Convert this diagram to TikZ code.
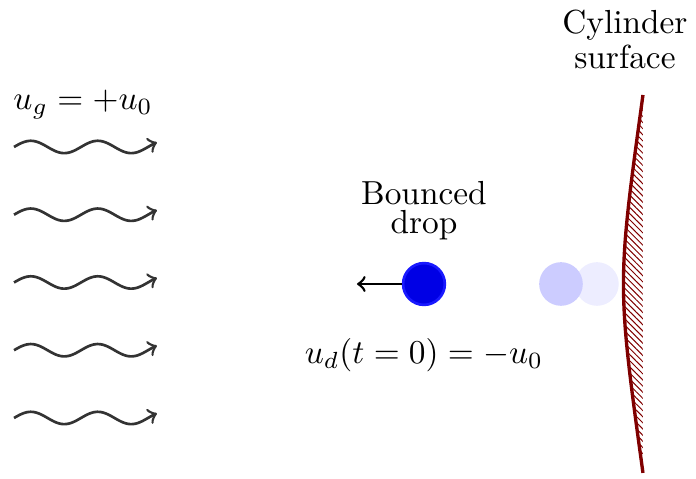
\documentclass[tikz,border=0pt]{standalone}
\usetikzlibrary{positioning,patterns.meta}

\begin{document}
\begin{tikzpicture}
    % 定义样式
    \tikzstyle{wave}=[thick, black!80, ->, >=to]
    \tikzstyle{drop}=[circle, fill=blue!90!black, draw=blue!90, thick, inner sep=0pt, minimum size=0.44cm]
    \tikzstyle{ghost}=[circle, inner sep=0pt, minimum size=0.46cm]
    \tikzstyle{wallline}=[line width=1pt, red!50!black]
    \tikzstyle{label}=[align=center, inner sep=1pt]

    % 画布范围
    \useasboundingbox (0,0) rectangle (7.335,-5.048);

    % 1. 气流 (波浪箭头)
    \node[label] (ug) at (0.875,-1.106) {$u_g=+u_0$};
    \foreach \y in {0,...,4} {
        \draw[wave] plot[domain=0:1.506, samples=80, smooth]
            ({0.148+\x}, {-1.549-0.714*\y+0.065*sin(\x*510)});
    }

    % 2. 液滴及其之前的位置
    \node[ghost, fill=blue!7] (g2) at (6.291,-2.993) {};
    \node[ghost, fill=blue!20] (g1) at (5.912,-2.993) {};
    \node[drop] (d) at (4.468,-2.993) {};
    \coordinate (dl) at (3.762,-2.993);
    \draw[thick, ->, >=to] (d.west) -- (dl);

    \node[label, above=0.19cm of d] (bounce) {Bounced\\[-3.5pt]drop};
    \node[label, below=0.3cm of d] (ud) {$u_d(t=0)=-u_0$};

    % 3. 圆柱表面 (带阴影线)
    \coordinate (wtop) at (6.776,-1.001);
    \coordinate (wbot) at (6.776,-4.984);
    \fill[pattern={Lines[angle=-45, distance=1.3pt, line width=0.3pt]}, pattern color=red!50!black]
        (wtop) .. controls (6.502,-2.993) .. (wbot) -- cycle;
    \draw[wallline] (wtop) .. controls (6.502,-2.993) .. (wbot);
    \node[label, anchor=north] (cyl) at (6.586,-0.06) {Cylinder\\[-1.5pt]surface};

\end{tikzpicture}
\end{document}
